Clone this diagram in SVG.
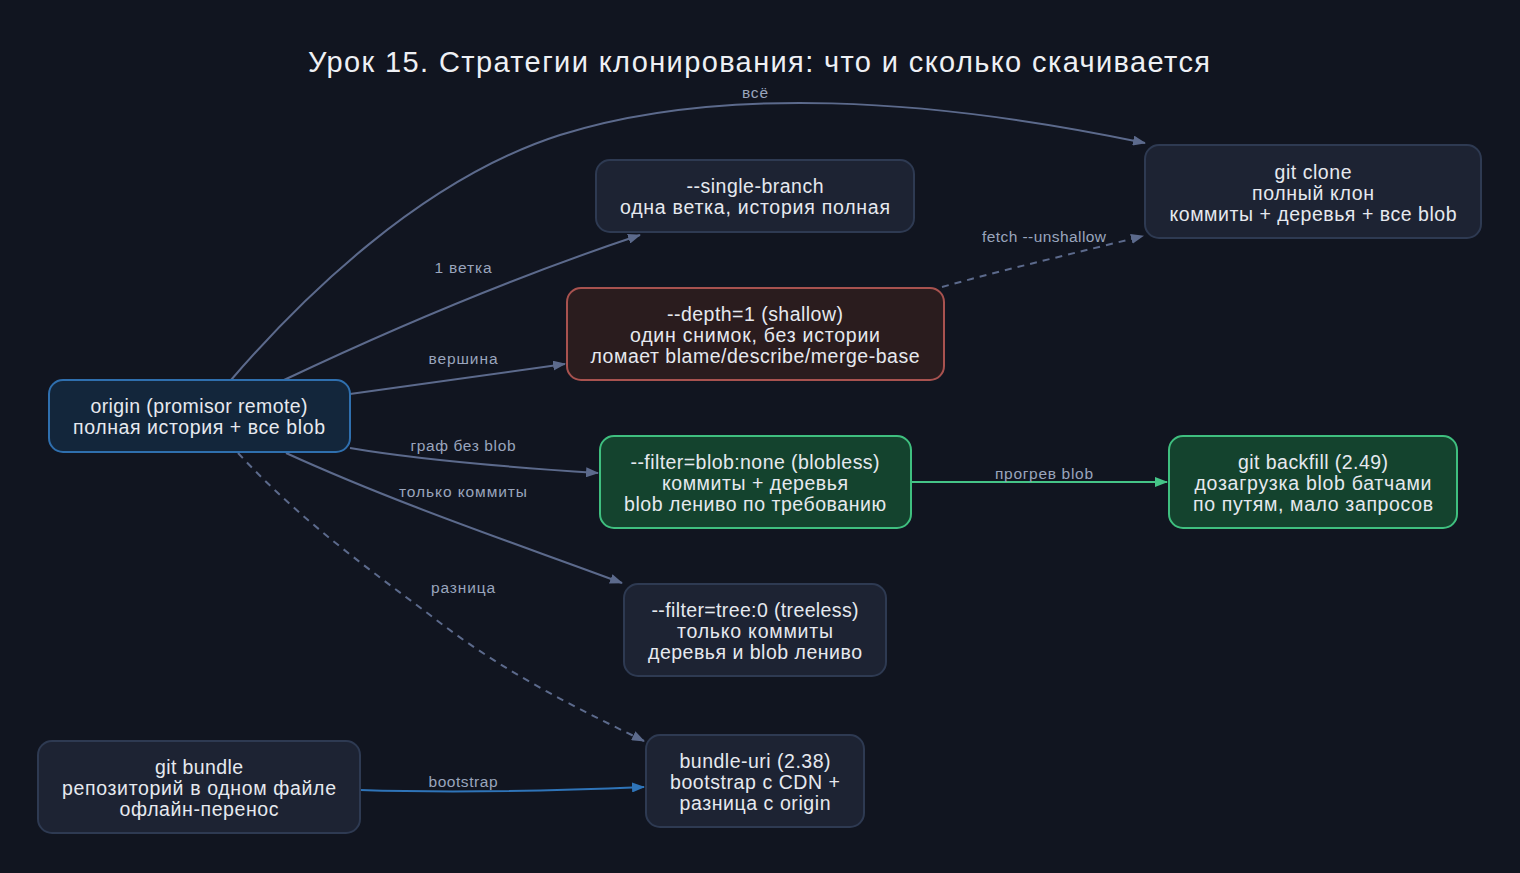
<svg xmlns="http://www.w3.org/2000/svg" width="1520" height="873" viewBox="0 0 1520 873">
<style>
.t{font-family:"Liberation Sans",Arial,sans-serif;font-size:19.5px;fill:#e6e9ef;text-anchor:middle}
.l{font-family:"Liberation Sans",Arial,sans-serif;font-size:15.5px;fill:#9aa5bd;text-anchor:middle}
.ttl{font-family:"Liberation Sans",Arial,sans-serif;font-size:29px;fill:#eef0f4;text-anchor:middle}
.n{fill:#1d2333;stroke:#2e3a52;stroke-width:2}
.e{fill:none;stroke:#5c6a8c;stroke-width:2}
.d{stroke-dasharray:7,6}
</style>
<defs>
<marker id="ag" viewBox="0 0 13 10" refX="12" refY="5" markerWidth="13" markerHeight="10" markerUnits="userSpaceOnUse" orient="auto"><path d="M0,0 L13,5 L0,10 z" fill="#5c6a8c"/></marker>
<marker id="agr" viewBox="0 0 13 10" refX="12" refY="5" markerWidth="13" markerHeight="10" markerUnits="userSpaceOnUse" orient="auto"><path d="M0,0 L13,5 L0,10 z" fill="#45c487"/></marker>
<marker id="ab" viewBox="0 0 13 10" refX="12" refY="5" markerWidth="13" markerHeight="10" markerUnits="userSpaceOnUse" orient="auto"><path d="M0,0 L13,5 L0,10 z" fill="#2f74b8"/></marker>
</defs>
<rect width="1520" height="873" fill="#111520"/>
<text class="ttl" x="759" y="72" textLength="902">Урок 15. Стратегии клонирования: что и сколько скачивается</text>
<g id="edges">
<path class="e" d="M231,380 C300,300 420,180 560,135 C720,85 930,98 1145,143" marker-end="url(#ag)"/>
<text class="l" x="755" y="98" textLength="26">всё</text>
<path class="e" d="M284,380 C400,325 520,275 640,235" marker-end="url(#ag)"/>
<text class="l" x="463" y="273" textLength="57">1 ветка</text>
<path class="e" d="M350,394 L565,364" marker-end="url(#ag)"/>
<text class="l" x="463" y="364" textLength="69">вершина</text>
<path class="e" d="M350,448 C420,460 520,468 598,473" marker-end="url(#ag)"/>
<text class="l" x="463" y="451" textLength="105">граф без blob</text>
<path class="e" d="M286,453 C400,505 520,545 622,583" marker-end="url(#ag)"/>
<text class="l" x="463" y="497" textLength="128">только коммиты</text>
<path class="e d" d="M238,453 C300,520 370,570 430,615 C500,670 570,705 644,741" marker-end="url(#ag)"/>
<text class="l" x="463" y="593" textLength="64">разница</text>
<path class="e d" d="M942,287 C1010,268 1080,252 1143,236" marker-end="url(#ag)"/>
<text class="l" x="1044" y="242" textLength="124">fetch --unshallow</text>
<path class="e" style="stroke:#45c487" d="M911,482 L1167,482" marker-end="url(#agr)"/>
<text class="l" x="1044" y="479" textLength="98">прогрев blob</text>
<path class="e" style="stroke:#2f74b8" d="M360,790 C450,793 550,791 644,787" marker-end="url(#ab)"/>
<text class="l" x="463" y="787" textLength="69">bootstrap</text>
</g>
<g id="origin"><rect class="n" style="fill:#13263b;stroke:#2f6fae" x="49" y="380" width="301" height="72" rx="14"/><text class="t" x="199" y="413" textLength="217">origin (promisor remote)</text><text class="t" x="199" y="434" textLength="252">полная история + все blob</text></g>
<g id="single"><rect class="n" x="596" y="160" width="318" height="72" rx="14"/><text class="t" x="755" y="193" textLength="137">--single-branch</text><text class="t" x="755" y="214" textLength="270">одна ветка, история полная</text></g>
<g id="depth"><rect class="n" style="fill:#2a1c1e;stroke:#a8524f" x="567" y="288" width="377" height="92" rx="14"/><text class="t" x="755" y="321" textLength="176">--depth=1 (shallow)</text><text class="t" x="755" y="342" textLength="250">один снимок, без истории</text><text class="t" x="755" y="363" textLength="329">ломает blame/describe/merge-base</text></g>
<g id="clone"><rect class="n" x="1145" y="145" width="336" height="93" rx="14"/><text class="t" x="1313" y="179" textLength="77">git clone</text><text class="t" x="1313" y="200" textLength="122">полный клон</text><text class="t" x="1313" y="221" textLength="287">коммиты + деревья + все blob</text></g>
<g id="blobless"><rect class="n" style="fill:#14432e;stroke:#3fbf7f" x="600" y="436" width="311" height="92" rx="14"/><text class="t" x="755" y="469" textLength="249">--filter=blob:none (blobless)</text><text class="t" x="755" y="490" textLength="186">коммиты + деревья</text><text class="t" x="755" y="511" textLength="262">blob лениво по требованию</text></g>
<g id="backfill"><rect class="n" style="fill:#14432e;stroke:#3fbf7f" x="1169" y="436" width="288" height="92" rx="14"/><text class="t" x="1313" y="469" textLength="150">git backfill (2.49)</text><text class="t" x="1313" y="490" textLength="237">дозагрузка blob батчами</text><text class="t" x="1313" y="511" textLength="240">по путям, мало запросов</text></g>
<g id="treeless"><rect class="n" x="624" y="584" width="262" height="92" rx="14"/><text class="t" x="755" y="617" textLength="207">--filter=tree:0 (treeless)</text><text class="t" x="755" y="638" textLength="156">только коммиты</text><text class="t" x="755" y="659" textLength="214">деревья и blob лениво</text></g>
<g id="bundleuri"><rect class="n" x="646" y="735" width="218" height="92" rx="14"/><text class="t" x="755" y="768" textLength="151">bundle-uri (2.38)</text><text class="t" x="755" y="789" textLength="170">bootstrap с CDN +</text><text class="t" x="755" y="810" textLength="151">разница с origin</text></g>
<g id="bundle"><rect class="n" x="38" y="741" width="322" height="92" rx="14"/><text class="t" x="199" y="774" textLength="88">git bundle</text><text class="t" x="199" y="795" textLength="274">репозиторий в одном файле</text><text class="t" x="199" y="816" textLength="159">офлайн-перенос</text></g>
</svg>
